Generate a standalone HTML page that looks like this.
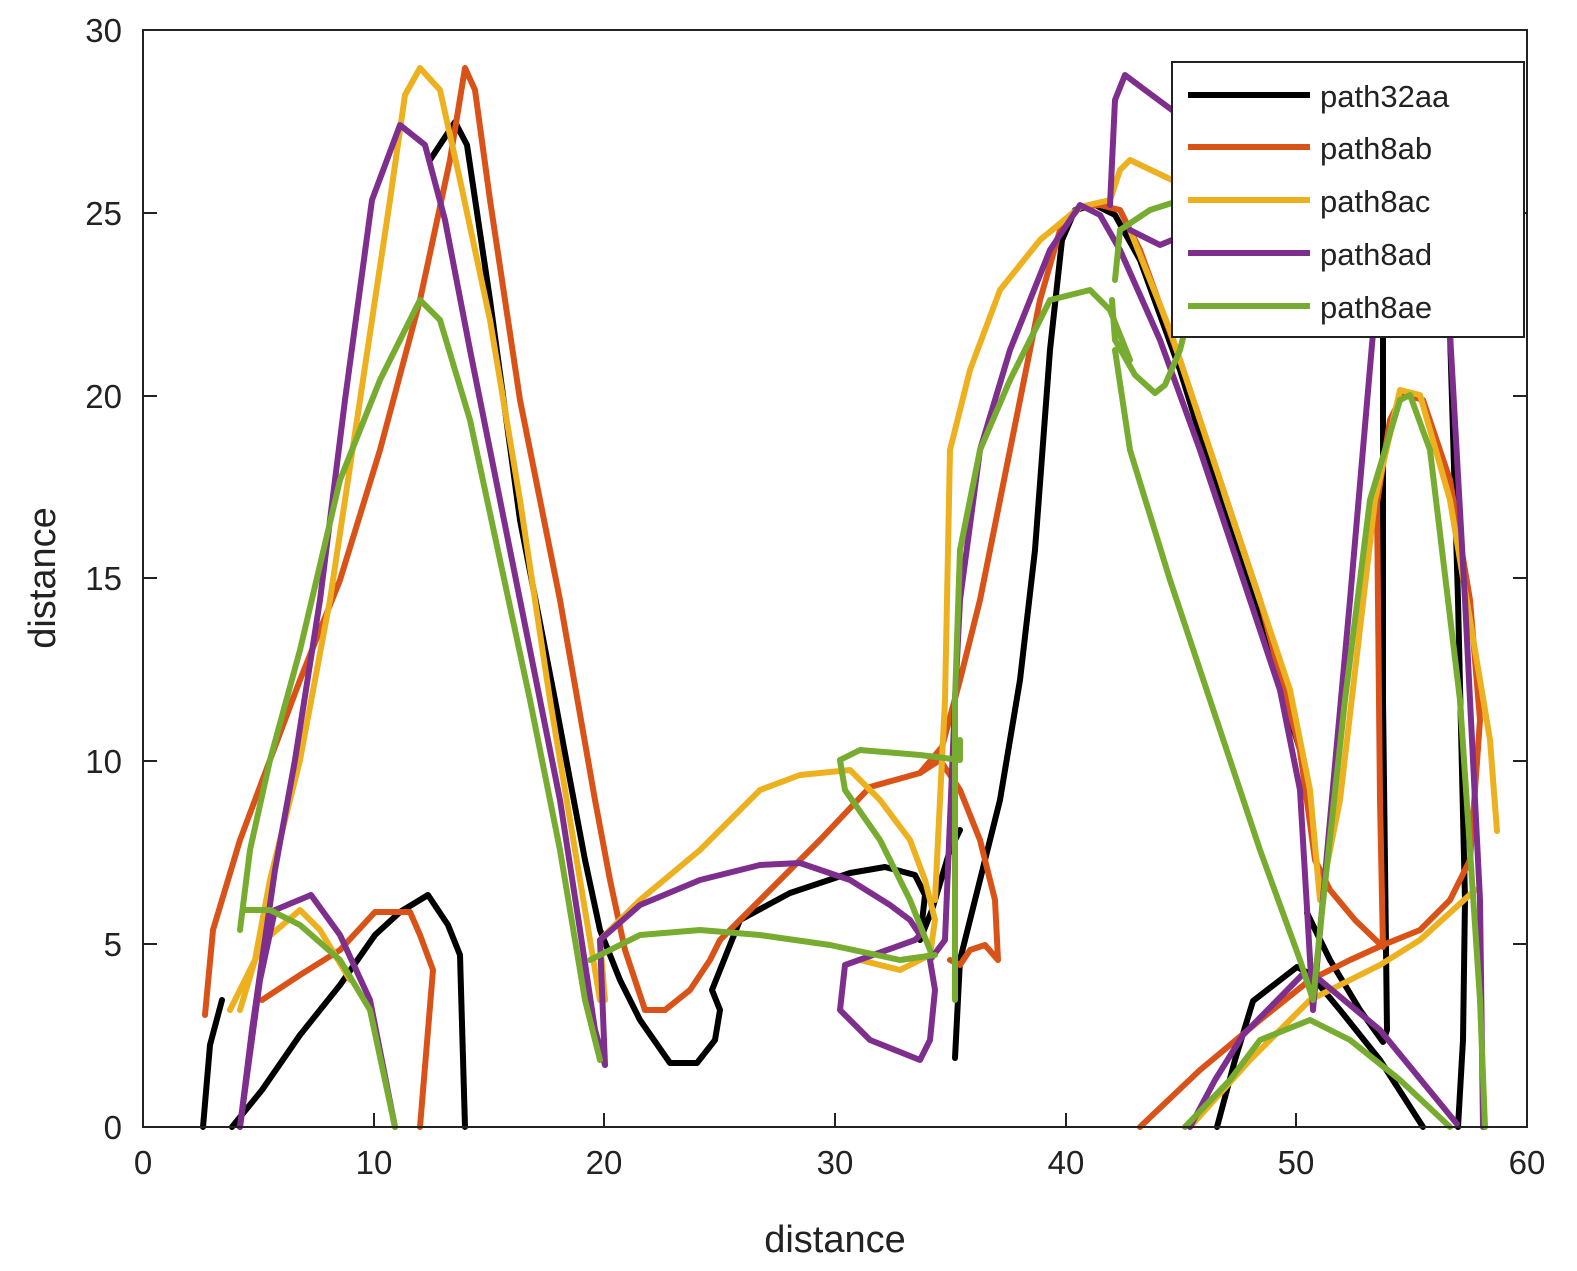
<!DOCTYPE html>
<html><head><style>body{margin:0;background:#fff}svg{display:block}text{font-family:"Liberation Sans",sans-serif;fill:#222}</style></head><body>
<svg width="1577" height="1271" viewBox="0 0 1577 1271" xmlns="http://www.w3.org/2000/svg">
<rect x="0" y="0" width="1577" height="1271" fill="#fff"/>
<g fill="none" stroke-width="6" stroke-linejoin="round" stroke-linecap="round">
<g stroke="#000">
<polyline points="203,1127 210,1045 222,1000"/>
<polyline points="232,1127 262,1090 300,1035 340,985 375,935 400,912 428,895 448,925 460,955 465,1127"/>
<polyline points="430,160 455,122 467,145 490,300 520,520 555,700 585,860 600,930 620,980 640,1020 670,1063 697,1063 715,1040 720,1010 712,990 740,920 790,893 850,873 885,867 915,875 925,895 920,940 932,910 950,850 960,830"/>
<polyline points="955,1058 960,960 975,900 1000,800 1020,680 1035,550 1050,350 1062,240 1075,210 1095,205 1115,215 1140,260 1180,370 1220,500 1260,620 1300,750 1317,865"/>
<polyline points="1307,913 1330,960 1360,1010 1383,1042 1387,1030 1383,700 1383,333"/>
<polyline points="1450,333 1458,600 1465,900 1463,1040 1458,1127"/>
<polyline points="1217,1127 1235,1060 1253,1001 1297,967 1310,974 1340,1010 1380,1060 1423,1127"/>
</g>
<g stroke="#D95319">
<polyline points="205,1015 213,930 240,840 270,760 300,680 340,580 380,450 420,300 450,160 465,68 475,90 490,200 520,400 560,600 595,800 610,880 625,950 645,1010 665,1010 690,990 710,960 720,940 760,900 820,840 870,787 920,773 942,747 960,680 980,600 1000,500 1020,400 1040,300 1060,230 1080,207 1100,205 1120,210 1140,250 1180,360 1220,480 1260,600 1300,750 1315,860 1330,890 1355,920 1383,947 1380,800 1377,503 1390,420 1403,394 1423,400 1450,480 1470,600 1480,720 1475,790 1470,860 1450,900 1420,930 1383,945 1350,960 1310,980 1260,1020 1200,1070 1140,1127"/>
<polyline points="262,1000 300,975 340,950 375,912 410,912 420,935 433,970 420,1127"/>
<polyline points="920,773 940,760 960,790 980,840 995,900 998,960 985,945 970,950 960,965 950,960"/>
</g>
<g stroke="#EDB120">
<polyline points="240,1010 255,960 270,880 300,760 330,600 360,400 390,200 405,95 420,68 440,90 460,180 490,320 520,500 550,700 580,880 600,1000"/>
<polyline points="230,1010 265,940 300,910 320,930 350,980"/>
<polyline points="605,1000 600,940 640,900 700,850 760,790 800,775 850,770 880,800 910,840 925,880 935,920 930,955 900,970 860,960"/>
<polyline points="935,900 945,700 950,450 970,370 1000,290 1040,240 1080,207 1110,200 1120,170 1130,160 1172,180"/>
<polyline points="1130,230 1170,330 1210,450 1250,570 1290,690 1310,790 1320,900 1340,800 1375,500 1400,390 1420,395 1450,500 1470,620 1490,740 1497,831"/>
<polyline points="1190,1127 1250,1060 1310,1000 1380,965 1420,940 1475,890"/>
</g>
<g stroke="#7E2F8E">
<polyline points="240,1127 252,1030 262,960 275,870 295,760 320,600 345,400 372,200 400,125 425,145 445,220 470,350 500,500 530,650 560,800 580,930 595,1030 605,1065 600,940 640,905 700,880 760,865 800,863 850,880 890,905 910,920 920,935"/>
<polyline points="240,1127 260,980 275,910 311,895 340,935 370,1000 395,1127"/>
<polyline points="920,935 915,940 845,965 840,1010 870,1040 920,1060 930,1040 935,990 930,960 945,940 955,700 960,600 980,450 1010,350 1050,250 1080,205 1100,215 1120,250 1160,340 1200,450 1240,570 1280,690 1300,790 1313,1010 1330,820 1350,600 1373,333"/>
<polyline points="1110,205 1115,100 1125,75 1145,90 1172,110"/>
<polyline points="1130,230 1160,245 1172,240"/>
<polyline points="1450,333 1465,600 1480,900 1483,1127"/>
<polyline points="1190,1127 1215,1080 1243,1035 1303,974 1320,980 1380,1030 1457,1124"/>
</g>
<g stroke="#77AC30">
<polyline points="240,930 250,850 270,760 300,650 340,480 380,380 420,300 440,320 470,420 500,560 530,700 560,850 585,1000 600,1060"/>
<polyline points="245,910 270,910 300,925 340,960 370,1010 395,1127"/>
<polyline points="590,960 640,935 700,930 760,935 830,945 900,960 935,955"/>
<polyline points="840,760 860,750 920,755 960,760 960,740"/>
<polyline points="840,760 845,790 880,840 910,900 930,950"/>
<polyline points="955,1000 955,700 960,550 980,450 1010,380 1050,300 1090,290 1110,310 1130,360"/>
<polyline points="1112,300 1115,340 1135,375 1155,393 1165,385 1180,350 1185,330"/>
<polyline points="1115,280 1120,230 1150,210 1172,203"/>
<polyline points="1115,350 1130,450 1170,580 1210,700 1260,850 1300,960 1313,1000 1320,930 1345,700 1370,500 1400,400 1410,395 1430,450 1460,700 1480,1000 1485,1127"/>
<polyline points="1185,1127 1230,1080 1260,1040 1310,1020 1350,1040 1400,1080 1450,1127"/>
</g>
</g>
<rect x="143" y="30" width="1384" height="1097" fill="none" stroke="#222" stroke-width="2"/>
<g stroke="#222" stroke-width="2">
<line x1="143" y1="1127" x2="143" y2="1113"/><line x1="374" y1="1127" x2="374" y2="1113"/><line x1="604" y1="1127" x2="604" y2="1113"/><line x1="835" y1="1127" x2="835" y2="1113"/><line x1="1066" y1="1127" x2="1066" y2="1113"/><line x1="1296" y1="1127" x2="1296" y2="1113"/>
<line x1="143" y1="944" x2="157" y2="944"/><line x1="143" y1="761" x2="157" y2="761"/><line x1="143" y1="578" x2="157" y2="578"/><line x1="143" y1="396" x2="157" y2="396"/><line x1="143" y1="213" x2="157" y2="213"/>
<line x1="1527" y1="944" x2="1513" y2="944"/><line x1="1527" y1="761" x2="1513" y2="761"/><line x1="1527" y1="578" x2="1513" y2="578"/><line x1="1527" y1="396" x2="1513" y2="396"/><line x1="1527" y1="213" x2="1513" y2="213"/>
</g>
<g font-size="33" text-anchor="middle">
<text x="143" y="1174">0</text><text x="374" y="1174">10</text><text x="604" y="1174">20</text><text x="835" y="1174">30</text><text x="1066" y="1174">40</text><text x="1296" y="1174">50</text><text x="1527" y="1174">60</text>
</g>
<g font-size="33" text-anchor="end">
<text x="122" y="1139">0</text><text x="122" y="956">5</text><text x="122" y="773">10</text><text x="122" y="590">15</text><text x="122" y="408">20</text><text x="122" y="225">25</text><text x="122" y="42">30</text>
</g>
<text x="835" y="1252" font-size="38" text-anchor="middle">distance</text>
<text transform="translate(55,578) rotate(-90)" font-size="38" text-anchor="middle">distance</text>
<rect x="1172" y="62" width="352" height="275" fill="#fff" stroke="#222" stroke-width="2"/>
<g stroke-width="6">
<line x1="1188" y1="95" x2="1310" y2="95" stroke="#000"/>
<line x1="1188" y1="147" x2="1310" y2="147" stroke="#D95319"/>
<line x1="1188" y1="200" x2="1310" y2="200" stroke="#EDB120"/>
<line x1="1188" y1="253" x2="1310" y2="253" stroke="#7E2F8E"/>
<line x1="1188" y1="306" x2="1310" y2="306" stroke="#77AC30"/>
</g>
<g font-size="31">
<text x="1320" y="107">path32aa</text><text x="1320" y="159">path8ab</text><text x="1320" y="212">path8ac</text><text x="1320" y="265">path8ad</text><text x="1320" y="318">path8ae</text>
</g>
</svg>
</body></html>
